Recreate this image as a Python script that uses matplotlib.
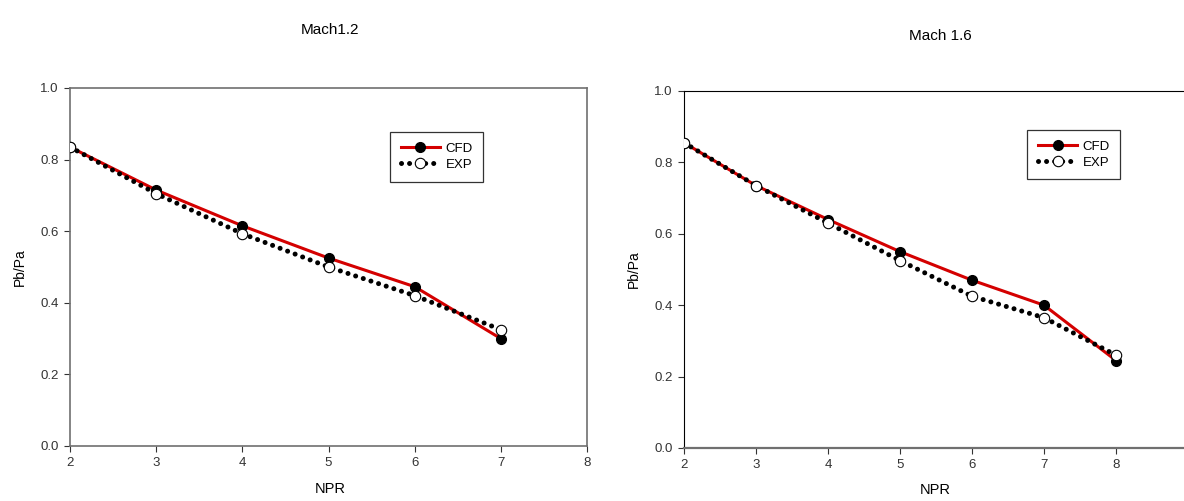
# Base pressure ratio vs NPR, CFD vs experiment, Mach 1.2 and 1.6
import matplotlib.pyplot as plt

plt.rcParams['font.family'] = ['Liberation Sans', 'DejaVu Sans']

npr_12 = [2, 3, 4, 5, 6, 7]
cfd_12 = [0.835, 0.715, 0.615, 0.525, 0.445, 0.300]
exp_12 = [0.835, 0.705, 0.593, 0.500, 0.420, 0.325]

npr_16 = [2, 3, 4, 5, 6, 7, 8]
cfd_16 = [0.855, 0.735, 0.640, 0.550, 0.470, 0.400, 0.245]
exp_16 = [0.855, 0.735, 0.630, 0.525, 0.425, 0.365, 0.260]

fig = plt.figure(figsize=(11.84, 5.01), dpi=100)
ax1 = fig.add_axes([0.0591, 0.1098, 0.4367, 0.7146])
ax2 = fig.add_axes([0.5777, 0.1058, 0.4257, 0.7126])


def draw(ax, x, cfd, exp, xmax, leg_pos):
    ax.plot(x, cfd, color='#d40000', linewidth=2.2, marker='o', markersize=7,
            markerfacecolor='black', markeredgecolor='black', label='CFD', zorder=3)
    ax.plot(x, exp, color='black', linewidth=3.6, linestyle=(0, (0.01, 1.6)),
            dash_capstyle='round', marker='o', markersize=7.5,
            markerfacecolor='white', markeredgecolor='black', markeredgewidth=0.8,
            label='EXP', zorder=4)
    ax.set_xlim(2, xmax)
    ax.set_ylim(0, 1.0)
    ax.set_xticks(range(2, xmax + 1))
    ax.set_yticks([0.0, 0.2, 0.4, 0.6, 0.8, 1.0])
    ax.set_yticklabels(['0.0', '0.2', '0.4', '0.6', '0.8', '1.0'])
    ax.tick_params(direction='out', length=4, labelsize=9.5, pad=4, colors='#333333')
    ax.set_ylabel('Pb/Pa', fontsize=10, labelpad=10)
    leg = ax.legend(loc='upper left', bbox_to_anchor=leg_pos, fontsize=9.5,
                    frameon=True, fancybox=False, edgecolor='black',
                    handlelength=3, handletextpad=0.4, borderpad=0.8,
                    labelspacing=0.3, borderaxespad=0)
    leg.get_frame().set_linewidth(0.9)


draw(ax1, npr_12, cfd_12, exp_12, 8, (0.619, 0.877))
for s in ax1.spines.values():
    s.set_color('#707070')
    s.set_linewidth(1.2)

draw(ax2, npr_16, cfd_16, exp_16, 9, (0.681, 0.891))
ax2.spines['bottom'].set_color('#707070')
ax2.spines['bottom'].set_linewidth(1.6)
ax2.spines['left'].set_linewidth(0.8)
ax2.spines['top'].set_linewidth(0.8)

fig.text(330 / 1184, 1 - 30 / 501, 'Mach1.2', fontsize=11, ha='center', va='center')
fig.text(940 / 1184, 1 - 36 / 501, 'Mach 1.6', fontsize=11, ha='center', va='center')
fig.text(330 / 1184, 1 - 489 / 501, 'NPR', fontsize=10.5, ha='center', va='center')
fig.text(935 / 1184, 1 - 490 / 501, 'NPR', fontsize=10.5, ha='center', va='center')

fig.savefig('out.png', dpi=100)
